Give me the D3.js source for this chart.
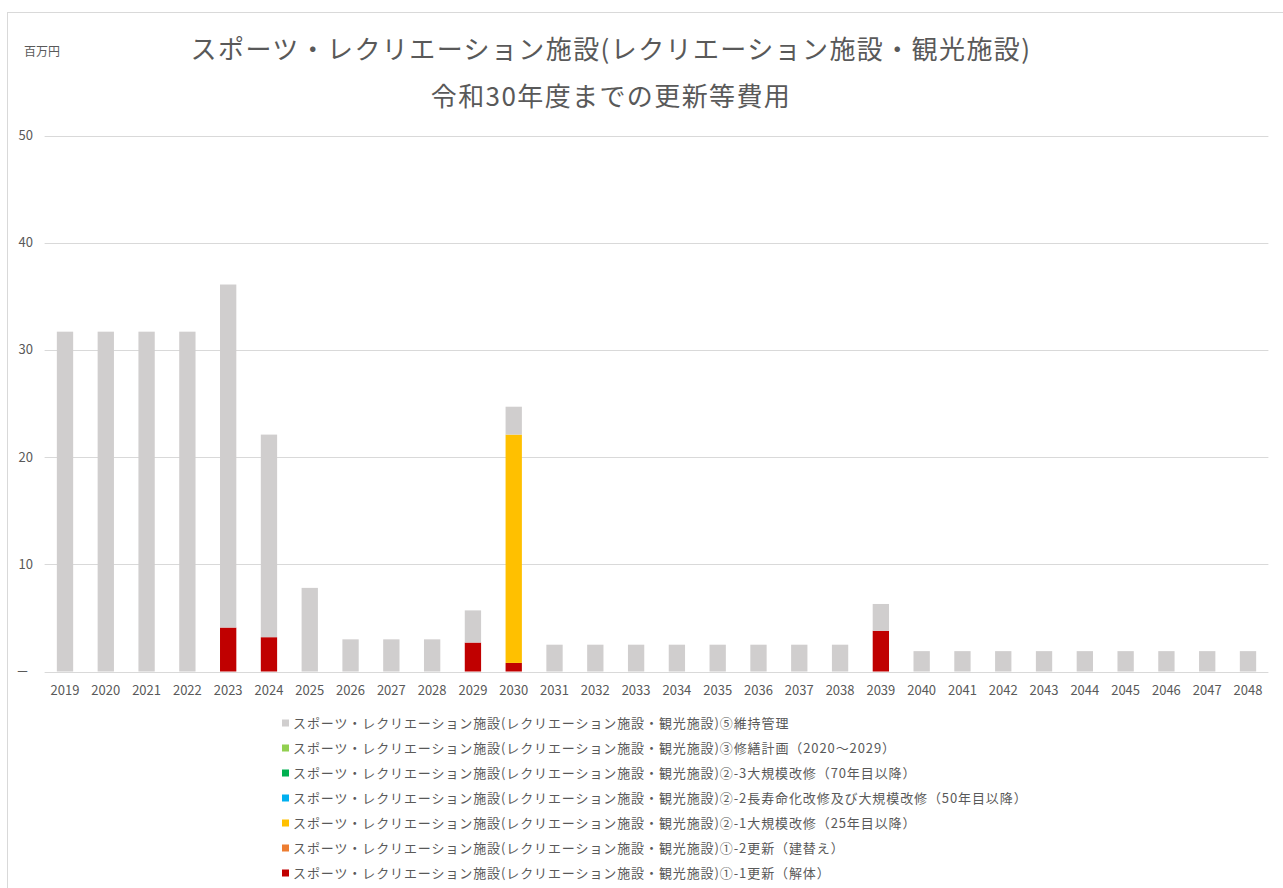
<!DOCTYPE html>
<html>
<head>
<meta charset="utf-8">
<script src="https://cdn.jsdelivr.net/npm/d3@7"></script>
<style>
  body { margin: 0; background: #fff; }
  text { font-family: "Noto Sans CJK JP", "Noto Sans", sans-serif; fill: #595959; }
</style>
</head>
<body>
<div id="chart"></div>
<script>
// Svg defs
let w = 1283,
    h = 888;

// Data defs
let years = ["2019","2020","2021","2022","2023","2024","2025","2026","2027","2028",
             "2029","2030","2031","2032","2033","2034","2035","2036","2037","2038",
             "2039","2040","2041","2042","2043","2044","2045","2046","2047","2048"];

let prefix = "スポーツ・レクリエーション施設(レクリエーション施設・観光施設)";

// stacking order, bottom first
let seriesKeys = ["r11", "r12", "r21", "r22", "r23", "r3", "r5"];
let seriesNames = {
  r5:  "⑤維持管理",
  r3:  "③修繕計画（2020～2029）",
  r23: "②-3大規模改修（70年目以降）",
  r22: "②-2長寿命化改修及び大規模改修（50年目以降）",
  r21: "②-1大規模改修（25年目以降）",
  r12: "①-2更新（建替え）",
  r11: "①-1更新（解体）"
};
let seriesColors = {
  r5: "#d0cece", r3: "#92d050", r23: "#00b050", r22: "#00b0f0",
  r21: "#ffc000", r12: "#ed7d31", r11: "#c00000"
};

let r5  = [31.7,31.7,31.7,31.7,32.0,18.9,7.8,3.0,3.0,3.0,
           3.0,2.6,2.5,2.5,2.5,2.5,2.5,2.5,2.5,2.5,
           2.5,1.9,1.9,1.9,1.9,1.9,1.9,1.9,1.9,1.9];
let r3  = [0,0,0,0,0,0,0,0,0,0, 0,0,0,0,0,0,0,0,0,0, 0,0,0,0,0,0,0,0,0,0];
let r23 = [0,0,0,0,0,0,0,0,0,0, 0,0,0,0,0,0,0,0,0,0, 0,0,0,0,0,0,0,0,0,0];
let r22 = [0,0,0,0,0,0,0,0,0,0, 0,0,0,0,0,0,0,0,0,0, 0,0,0,0,0,0,0,0,0,0];
let r21 = [0,0,0,0,0,0,0,0,0,0, 0,21.3,0,0,0,0,0,0,0,0, 0,0,0,0,0,0,0,0,0,0];
let r12 = [0,0,0,0,0,0,0,0,0,0, 0,0,0,0,0,0,0,0,0,0, 0,0,0,0,0,0,0,0,0,0];
let r11 = [0,0,0,0,4.1,3.2,0,0,0,0, 2.7,0.8,0,0,0,0,0,0,0,0, 3.8,0,0,0,0,0,0,0,0,0];

let yTicks = [0, 10, 20, 30, 40, 50];

let values = { r5, r3, r23, r22, r21, r12, r11 };
let table = years.map((y, i) => {
  let row = { year: y };
  seriesKeys.forEach(k => row[k] = values[k][i]);
  return row;
});

drawChart();

function drawChart () {

  let svg = d3.select("#chart")
    .append("svg")
    .attr("width", w)
    .attr("height", h)
    .attr("viewBox", [0, 0, w, h]);

  // Chart area border
  svg.append("rect")
    .attr("x", 7.5).attr("y", 12.5)
    .attr("width", w + 10).attr("height", h + 10)
    .attr("fill", "none")
    .attr("stroke", "#d9d9d9");

  let x = d3.scaleBand()
    .domain(years)
    .range([44.6, 1268.4])
    .paddingInner(0.6)
    .paddingOuter(0.3);

  let y = d3.scaleLinear()
    .domain([0, 50])
    .range([671.5, 135.5]);

  // Gridlines
  svg.append("g")
    .selectAll("line")
    .data(yTicks)
    .join("line")
    .attr("x1", 44.6).attr("x2", 1268.4)
    .attr("y1", d => Math.round(y(d)) + 0.5)
    .attr("y2", d => Math.round(y(d)) + 0.5)
    .attr("stroke", "#d9d9d9")
    .attr("stroke-width", 1);

  // Y labels
  svg.append("g")
    .selectAll("text")
    .data(yTicks)
    .join("text")
    .attr("x", d => d === 0 ? 29 : 33)
    .attr("y", d => y(d))
    .attr("dy", "0.35em")
    .attr("text-anchor", "end")
    .style("font-size", "13px")
    .text(d => d === 0 ? "－" : d);

  // Bars
  let stacked = d3.stack().keys(seriesKeys)(table);
  svg.append("g")
    .selectAll("g")
    .data(stacked)
    .join("g")
    .attr("fill", d => seriesColors[d.key])
    .selectAll("rect")
    .data(d => d.filter(p => p[1] - p[0] > 0))
    .join("rect")
    .attr("x", d => x(d.data.year))
    .attr("width", x.bandwidth())
    .attr("y", d => y(d[1]))
    .attr("height", d => y(d[0]) - y(d[1]));

  // X labels
  svg.append("g")
    .selectAll("text")
    .data(years)
    .join("text")
    .attr("x", d => x(d) + x.bandwidth() / 2)
    .attr("y", 690)
    .attr("dy", "0.35em")
    .attr("text-anchor", "middle")
    .style("font-size", "13px")
    .text(d => d);

  // Titles
  svg.append("text")
    .attr("x", 611).attr("y", 50)
    .attr("dy", "0.35em")
    .attr("text-anchor", "middle")
    .style("font-size", "26px")
    .style("letter-spacing", "1.4px")
    .text(prefix);
  svg.append("text")
    .attr("x", 611).attr("y", 97)
    .attr("dy", "0.35em")
    .attr("text-anchor", "middle")
    .style("font-size", "26px")
    .style("letter-spacing", "1.4px")
    .text("令和30年度までの更新等費用");
  svg.append("text")
    .attr("x", 24).attr("y", 52)
    .attr("dy", "0.35em")
    .style("font-size", "12px")
    .text("百万円");

  // Legend (top = last stacked)
  let legendKeys = seriesKeys.slice().reverse();
  let lg = svg.append("g")
    .selectAll("g")
    .data(legendKeys)
    .join("g")
    .attr("transform", (d, i) => `translate(282, ${723 + i * 25})`);
  lg.append("rect")
    .attr("x", 0).attr("y", -3.5)
    .attr("width", 7).attr("height", 7)
    .attr("fill", d => seriesColors[d]);
  lg.append("text")
    .attr("x", 11).attr("y", 0)
    .attr("dy", "0.35em")
    .style("font-size", "13px")
    .style("letter-spacing", "0.9px")
    .text(d => prefix + seriesNames[d]);
}
</script>
</body>
</html>
